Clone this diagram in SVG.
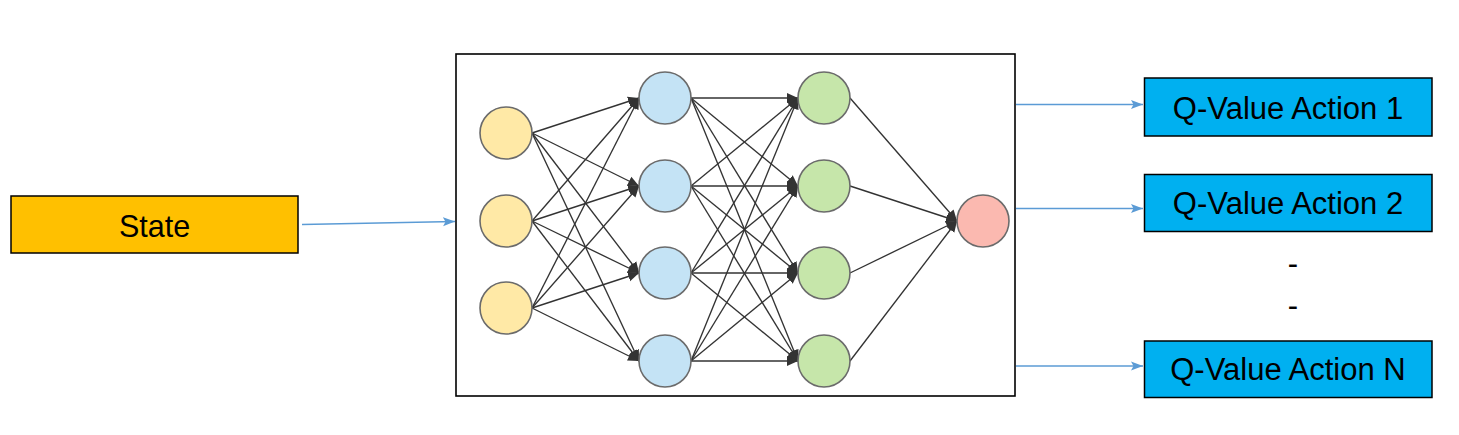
<svg xmlns="http://www.w3.org/2000/svg" width="1459" height="435" viewBox="0 0 1459 435">
<style>
.box{stroke:#000;stroke-width:1.5}
.lbl{font-family:"Liberation Sans",Arial,sans-serif;fill:#000;text-anchor:middle}
.n{stroke:#6b6b6b;stroke-width:1.6}
.y{fill:#FFE9A6}
.b{fill:#C4E3F5}
.g{fill:#C6E6AA}
.r{fill:#FBB9B0}
.e{stroke:#333;stroke-width:1.35;fill:none;marker-end:url(#blk)}
.c{stroke:#5B9BD5;stroke-width:1.6;fill:none;marker-end:url(#cls)}
</style>
<defs>
<marker id="blk" markerUnits="userSpaceOnUse" markerWidth="12" markerHeight="11" refX="11" refY="5.5" orient="auto" viewBox="0 0 12 11">
<path d="M0,0.5 L11,5.5 L0,10.5 z" fill="#333"/>
</marker>
<marker id="cls" markerUnits="userSpaceOnUse" markerWidth="12" markerHeight="10" refX="12" refY="5" orient="auto" viewBox="0 0 12 10">
<path d="M0,0.5 L12,5 L0,9.5 L2.5,5 z" fill="#5B9BD5"/>
</marker>
</defs>
<rect width="1459" height="435" fill="#fff"/>
<g id="network">
<rect x="456" y="54" width="559" height="342" fill="#fff" stroke="#000" stroke-width="1.6"/>
</g>
<g id="connectors">
<path class="c" d="M302,224.5 L455,221.5"/>
<path class="c" d="M1016,104.5 L1143,104.5"/>
<path class="c" d="M1016,208.5 L1143,208.5"/>
<path class="c" d="M1016,366 L1143,366"/>
<path class="e" d="M532,133 L639,98"/>
<path class="e" d="M532,133 L639,186"/>
<path class="e" d="M532,133 L639,273"/>
<path class="e" d="M532,133 L639,361"/>
<path class="e" d="M532,221 L639,98"/>
<path class="e" d="M532,221 L639,186"/>
<path class="e" d="M532,221 L639,273"/>
<path class="e" d="M532,221 L639,361"/>
<path class="e" d="M532,308 L639,98"/>
<path class="e" d="M532,308 L639,186"/>
<path class="e" d="M532,308 L639,273"/>
<path class="e" d="M532,308 L639,361"/>
<path class="e" d="M691,98 L798,98"/>
<path class="e" d="M691,98 L798,186"/>
<path class="e" d="M691,98 L798,273"/>
<path class="e" d="M691,98 L798,361"/>
<path class="e" d="M691,186 L798,98"/>
<path class="e" d="M691,186 L798,186"/>
<path class="e" d="M691,186 L798,273"/>
<path class="e" d="M691,186 L798,361"/>
<path class="e" d="M691,273 L798,98"/>
<path class="e" d="M691,273 L798,186"/>
<path class="e" d="M691,273 L798,273"/>
<path class="e" d="M691,273 L798,361"/>
<path class="e" d="M691,361 L798,98"/>
<path class="e" d="M691,361 L798,186"/>
<path class="e" d="M691,361 L798,273"/>
<path class="e" d="M691,361 L798,361"/>
<path class="e" d="M850,98 L957,221"/>
<path class="e" d="M850,186 L957,221"/>
<path class="e" d="M850,273 L957,221"/>
<path class="e" d="M850,361 L957,221"/>
</g>
<g id="state">
<rect class="box" x="11" y="196" width="287" height="57" fill="#FFC000"/>
<text class="lbl" x="154.5" y="236.5" font-size="30.5">State</text>
</g>
<g id="in1"><circle class="n y" cx="506" cy="133" r="26"/></g>
<g id="in2"><circle class="n y" cx="506" cy="221" r="26"/></g>
<g id="in3"><circle class="n y" cx="506" cy="308" r="26"/></g>
<g id="h1a"><circle class="n b" cx="665" cy="98" r="26"/></g>
<g id="h1b"><circle class="n b" cx="665" cy="186" r="26"/></g>
<g id="h1c"><circle class="n b" cx="665" cy="273" r="26"/></g>
<g id="h1d"><circle class="n b" cx="665" cy="361" r="26"/></g>
<g id="h2a"><circle class="n g" cx="824" cy="98" r="26"/></g>
<g id="h2b"><circle class="n g" cx="824" cy="186" r="26"/></g>
<g id="h2c"><circle class="n g" cx="824" cy="273" r="26"/></g>
<g id="h2d"><circle class="n g" cx="824" cy="361" r="26"/></g>
<g id="out"><circle class="n r" cx="983" cy="221" r="26"/></g>
<g id="q1">
<rect class="box" x="1144.5" y="78" width="287.5" height="58" fill="#00B0F0"/>
<text class="lbl" x="1288" y="118.5" font-size="31">Q-Value Action 1</text>
</g>
<g id="q2">
<rect class="box" x="1144.5" y="174.5" width="287.5" height="57" fill="#00B0F0"/>
<text class="lbl" x="1288" y="213.5" font-size="31">Q-Value Action 2</text>
</g>
<g id="dots">
<text class="lbl" x="1293" y="274" font-size="31">-</text>
<text class="lbl" x="1293" y="316" font-size="31">-</text>
</g>
<g id="qn">
<rect class="box" x="1144.5" y="341" width="287.5" height="56.5" fill="#00B0F0"/>
<text class="lbl" x="1288" y="380" font-size="31">Q-Value Action N</text>
</g>
</svg>
